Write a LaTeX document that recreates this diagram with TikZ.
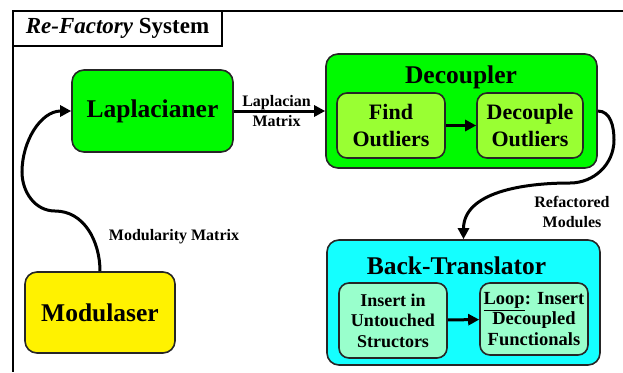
\documentclass[tikz,border=0pt]{standalone}
\usepackage{fontspec}
\setmainfont{Liberation Serif}
\usetikzlibrary{arrows.meta}

\tikzset{
  box/.style={draw=black!85, line width=1.6pt, rounded corners=12pt, align=center, font=\bfseries},
  inbox/.style={box, rounded corners=10pt},
  flow/.style={line width=3pt, -{Triangle[length=11pt,width=11pt]}},
  lbl/.style={align=center, font=\fontsize{16}{20}\selectfont\bfseries},
}

\begin{document}
\begin{tikzpicture}[x=1pt,y=-1pt]
      \useasboundingbox (0,0) rectangle (623,372);
      \draw[line width=1.3pt] (623,11) -- (13,11) -- (13,372);
      \node[draw, line width=1.3pt, minimum width=209pt, minimum height=35pt, font=\fontsize{23}{25}\selectfont\bfseries] (title) at (117.5,28.5) {\textit{Re-Factory} System};
      \node[box, fill={rgb,255:red,0;green,250;blue,0}, minimum width=161pt, minimum height=82pt, font=\fontsize{25.5}{28}\selectfont\bfseries] (lap) at (152.5,111) {Laplacianer};
      \node[box, fill={rgb,255:red,0;green,250;blue,0}, minimum width=271pt, minimum height=114pt] (dec) at (461.5,111) {};
      \node[anchor=base, font=\fontsize{25.5}{28}\selectfont\bfseries] (dectitle) at (461,83) {Decoupler};
      \node[inbox, fill={rgb,255:red,153;green,255;blue,51}, minimum width=108pt, minimum height=65pt, font=\fontsize{22}{26}\selectfont\bfseries] (find) at (391,125.5) {Find\\Outliers};
      \node[inbox, fill={rgb,255:red,153;green,255;blue,51}, minimum width=106pt, minimum height=65pt, font=\fontsize{22}{26}\selectfont\bfseries] (decout) at (530,125.5) {Decouple\\Outliers};
      \node[box, fill={rgb,255:red,20;green,255;blue,255}, minimum width=273pt, minimum height=125pt] (bt) at (463.5,302.5) {};
      \node[anchor=base, font=\fontsize{25.5}{28}\selectfont\bfseries] (bttitle) at (456.5,274) {Back-Translator};
      \node[inbox, fill={rgb,255:red,153;green,255;blue,204}, minimum width=108pt, minimum height=75pt, font=\fontsize{18}{20.5}\selectfont\bfseries] (insert) at (393,320.5) {Insert in\\Untouched\\Structors};
      \node[inbox, fill={rgb,255:red,153;green,255;blue,204}, minimum width=108pt, minimum height=72pt, inner sep=1pt, font=\fontsize{18.5}{20.5}\selectfont\bfseries] (loop) at (534,319) {\underline{Loop}: Insert\\Decoupled\\Functionals};
      \node[box, fill=yellow, minimum width=150pt, minimum height=81pt, font=\fontsize{25.5}{28}\selectfont\bfseries] (mod) at (100,312.5) {Modulaser};
      \draw[flow] (lap) -- node[lbl, xshift=-3pt] (lapmat) {Laplacian\\Matrix} (dec);
      \draw[flow] (find) -- (decout);
      \draw[flow] (insert) -- (loop);
      \draw[flow] (mod.north) to[out=90,in=0] (55,211) to[out=180,in=-90] (22,172) to[out=90,in=180] (lap.west);
      \draw[flow] (dec.east) to[out=0,in=90] (614,140) to[out=-90,in=0] (570,183) to[out=180,in=90] (bt.north);
      \node[lbl] (modmat) at (174,237) {Modularity Matrix};
      \node[lbl] (refmod) at (572,212) {Refactored\\Modules};
\end{tikzpicture}
\end{document}
